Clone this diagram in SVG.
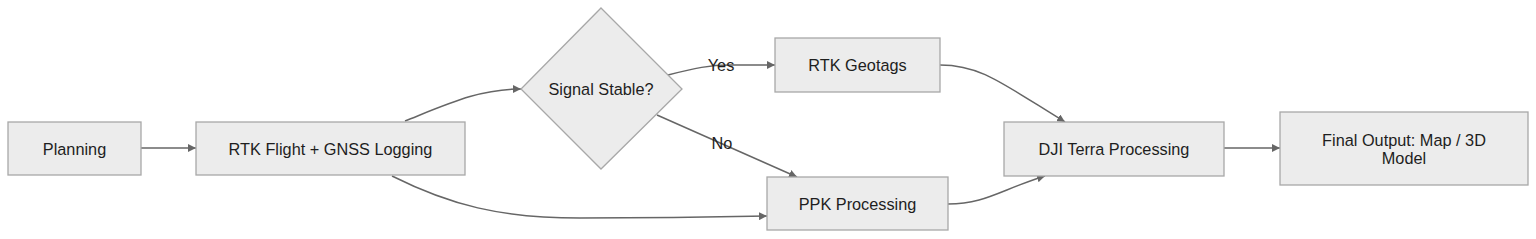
<svg xmlns="http://www.w3.org/2000/svg" width="1536" height="239" viewBox="0 0 1536 239">
<defs>
<style>
.node rect,.node polygon{fill:#ececec;stroke:#a8a8a8;stroke-width:1.3}
text{font-family:"Liberation Sans",Arial,sans-serif;font-size:16.3px;fill:#1e1e1e;text-anchor:middle;dominant-baseline:central}
.edge{fill:none;stroke:#666;stroke-width:1.5;marker-end:url(#arr)}
.lbl{fill:#1e1e1e}
</style>
<marker id="arr" viewBox="0 0 10 10" refX="10" refY="5" markerWidth="8" markerHeight="8" markerUnits="userSpaceOnUse" orient="auto">
<path d="M0,0 L10,5 L0,10 z" fill="#666"/>
</marker>
</defs>
<rect width="1536" height="239" fill="#ffffff"/>
<g id="connectors">
<path class="edge" d="M141,148 L196,148"/>
<path class="edge" d="M405,121 C450,103 480,89 521,89"/>
<path class="edge" d="M392,176 C450,205 500,218 580,218 C650,218 720,217 767,216"/>
<path class="edge" d="M668,75 C695,68 710,65 730,65 L775,65"/>
<path class="edge" d="M657,115 L797,177"/>
<path class="edge" d="M940,65 C980,65 1000,82 1065,122"/>
<path class="edge" d="M948,204 C985,204 1000,190 1045,176"/>
<path class="edge" d="M1224,148 L1280,148"/>
</g>
<g id="labels">
<text class="lbl" x="721" y="65">Yes</text>
<text class="lbl" x="722" y="143">No</text>
</g>
<g id="planning" class="node"><rect x="8" y="122" width="133" height="53"/><text x="74.5" y="148.5">Planning</text></g>
<g id="rtkflight" class="node"><rect x="196" y="122" width="269" height="53"/><text x="330.5" y="148.5">RTK Flight + GNSS Logging</text></g>
<g id="signal" class="node"><polygon points="601,8 682,89 601,169 521,89"/><text x="601" y="89">Signal Stable?</text></g>
<g id="rtkgeotags" class="node"><rect x="775" y="38" width="165" height="54"/><text x="857.5" y="65">RTK Geotags</text></g>
<g id="ppk" class="node"><rect x="767" y="177" width="181" height="53"/><text x="857.5" y="203.5">PPK Processing</text></g>
<g id="djiterra" class="node"><rect x="1004" y="122" width="220" height="54"/><text x="1114" y="149">DJI Terra Processing</text></g>
<g id="final" class="node"><rect x="1280" y="112" width="248" height="73"/><text x="1404" y="140">Final Output: Map / 3D</text><text x="1404" y="158">Model</text></g>
</svg>
